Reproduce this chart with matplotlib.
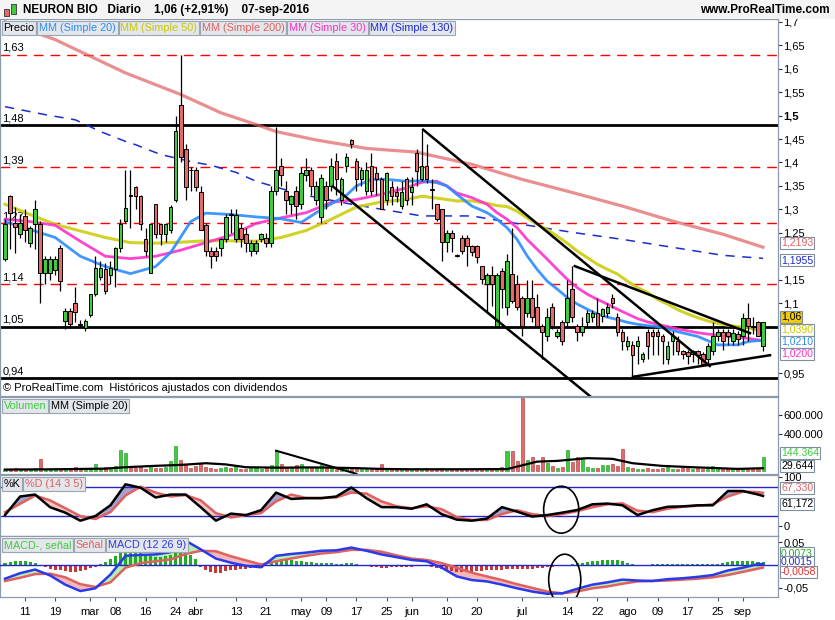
#!/usr/bin/env python
# encoding=utf-8
import numpy as np
import matplotlib
matplotlib.use('Agg')
import matplotlib.pyplot as plt
from matplotlib.patches import Ellipse, Rectangle

plt.rcParams['font.family'] = ['Liberation Sans', 'DejaVu Sans']

# ---------------- data ----------------
HOLIDAYS = ['2016-03-25', '2016-03-28']
FIRST_DAY, LAST_DAY = '2016-02-05', '2016-09-08'

opens = [1.194, 1.328, 1.270, 1.247, 1.285, 1.229, 1.268, 1.268, 1.165, 1.165,
         1.170, 1.218, 1.062, 1.084, 1.100, 1.055, 1.046, 1.074, 1.119, 1.155,
         1.172, 1.160, 1.172, 1.218, 1.275, 1.330, 1.348, 1.328, 1.236, 1.165,
         1.311, 1.268, 1.247, 1.257, 1.321, 1.523, 1.429, 1.385, 1.385, 1.337,
         1.266, 1.211, 1.211, 1.218, 1.236, 1.290, 1.236, 1.261, 1.247, 1.211,
         1.211, 1.236, 1.240, 1.229, 1.339, 1.392, 1.339, 1.311, 1.339, 1.311,
         1.374, 1.385, 1.321, 1.284, 1.350, 1.350, 1.403, 1.321, 1.392, 1.449,
         1.403, 1.365, 1.339, 1.392, 1.377, 1.365, 1.321, 1.348, 1.337, 1.308,
         1.365, 1.337, 1.421, 1.364, 1.392, 1.342, 1.311, 1.300, 1.230, 1.250,
         1.202, 1.240, 1.240, 1.221, 1.221, 1.179, 1.140, 1.160, 1.052, 1.169,
         1.091, 1.162, 1.140, 1.110, 1.080, 1.110, 1.091, 1.052, 1.030, 1.091,
         1.030, 1.060, 1.060, 1.131, 1.052, 1.039, 1.060, 1.070, 1.080, 1.073,
         1.080, 1.110, 1.070, 1.039, 1.009, 1.010, 1.009, 0.981, 1.039, 1.039,
         1.039, 1.030, 0.981, 1.020, 1.020, 0.998, 0.995, 0.991, 0.998, 0.991,
         0.981, 0.998, 1.030, 1.039, 1.039, 1.020, 1.034, 1.030, 1.069, 1.050,
         1.060, 1.009]
highs = [1.279, 1.330, 1.306, 1.290, 1.300, 1.265, 1.321, 1.275, 1.200, 1.200,
         1.200, 1.225, 1.090, 1.090, 1.135, 1.065, 1.066, 1.120, 1.200, 1.190,
         1.185, 1.190, 1.220, 1.280, 1.385, 1.385, 1.350, 1.330, 1.260, 1.268,
         1.311, 1.270, 1.270, 1.310, 1.500, 1.630, 1.440, 1.390, 1.390, 1.350,
         1.270, 1.220, 1.220, 1.240, 1.290, 1.300, 1.300, 1.270, 1.260, 1.235,
         1.235, 1.250, 1.250, 1.350, 1.475, 1.410, 1.360, 1.330, 1.350, 1.390,
         1.410, 1.390, 1.360, 1.375, 1.360, 1.410, 1.420, 1.370, 1.420, 1.450,
         1.410, 1.390, 1.400, 1.420, 1.390, 1.370, 1.380, 1.360, 1.350, 1.360,
         1.370, 1.370, 1.428, 1.470, 1.440, 1.364, 1.312, 1.300, 1.255, 1.255,
         1.205, 1.245, 1.245, 1.225, 1.225, 1.180, 1.165, 1.180, 1.165, 1.175,
         1.205, 1.260, 1.160, 1.115, 1.150, 1.150, 1.120, 1.055, 1.090, 1.100,
         1.045, 1.065, 1.150, 1.180, 1.055, 1.070, 1.085, 1.085, 1.110, 1.090,
         1.100, 1.120, 1.080, 1.045, 1.030, 1.020, 1.030, 0.995, 1.045, 1.045,
         1.045, 1.035, 1.020, 1.040, 1.030, 1.000, 1.000, 1.000, 1.000, 0.995,
         1.015, 1.060, 1.045, 1.045, 1.045, 1.045, 1.040, 1.080, 1.100, 1.070,
         1.062, 1.060]
lows = [1.190, 1.215, 1.208, 1.240, 1.230, 1.220, 1.215, 1.101, 1.140, 1.150,
        1.160, 1.125, 1.045, 1.048, 1.060, 1.050, 1.040, 1.070, 1.115, 1.150,
        1.120, 1.140, 1.135, 1.210, 1.270, 1.260, 1.300, 1.255, 1.200, 1.165,
        1.240, 1.225, 1.230, 1.250, 1.315, 1.400, 1.320, 1.340, 1.340, 1.255,
        1.200, 1.176, 1.190, 1.200, 1.230, 1.250, 1.230, 1.220, 1.210, 1.200,
        1.205, 1.230, 1.220, 1.220, 1.330, 1.350, 1.290, 1.290, 1.280, 1.300,
        1.360, 1.330, 1.310, 1.270, 1.300, 1.340, 1.330, 1.310, 1.380, 1.430,
        1.340, 1.350, 1.330, 1.330, 1.330, 1.300, 1.310, 1.310, 1.315, 1.300,
        1.310, 1.310, 1.350, 1.360, 1.357, 1.300, 1.275, 1.190, 1.210, 1.210,
        1.198, 1.205, 1.180, 1.200, 1.186, 1.140, 1.080, 1.095, 1.050, 1.090,
        1.075, 1.100, 1.085, 1.030, 1.070, 1.060, 1.050, 0.980, 1.020, 1.045,
        1.025, 1.010, 1.050, 1.060, 1.020, 1.030, 1.050, 1.060, 1.050, 1.060,
        1.070, 1.090, 1.030, 1.000, 1.000, 0.940, 0.970, 0.975, 0.980, 0.990,
        0.990, 0.970, 0.970, 0.990, 0.990, 0.980, 0.970, 0.975, 0.970, 0.965,
        0.970, 0.990, 1.020, 1.000, 1.010, 1.010, 1.010, 1.010, 1.020, 1.035,
        1.030, 0.999]
closes = [1.268, 1.293, 1.262, 1.272, 1.255, 1.261, 1.300, 1.165, 1.194, 1.194,
          1.194, 1.147, 1.084, 1.055, 1.082, 1.054, 1.062, 1.119, 1.174, 1.174,
          1.126, 1.175, 1.218, 1.268, 1.304, 1.328, 1.328, 1.268, 1.211, 1.268,
          1.247, 1.247, 1.268, 1.304, 1.467, 1.412, 1.348, 1.383, 1.348, 1.257,
          1.211, 1.201, 1.201, 1.236, 1.284, 1.289, 1.289, 1.236, 1.229, 1.229,
          1.229, 1.247, 1.229, 1.339, 1.385, 1.374, 1.321, 1.328, 1.307, 1.377,
          1.385, 1.350, 1.350, 1.366, 1.321, 1.392, 1.365, 1.365, 1.412, 1.440,
          1.365, 1.385, 1.385, 1.339, 1.365, 1.301, 1.377, 1.328, 1.328, 1.337,
          1.321, 1.348, 1.381, 1.392, 1.364, 1.341, 1.280, 1.230, 1.250, 1.240,
          1.201, 1.211, 1.221, 1.209, 1.199, 1.151, 1.160, 1.140, 1.160, 1.131,
          1.190, 1.105, 1.091, 1.052, 1.110, 1.070, 1.052, 1.039, 1.070, 1.052,
          1.039, 1.020, 1.110, 1.070, 1.039, 1.052, 1.080, 1.080, 1.052, 1.087,
          1.091, 1.101, 1.039, 1.020, 1.020, 0.990, 1.020, 0.991, 1.009, 1.030,
          1.030, 1.020, 1.009, 1.030, 0.998, 0.991, 0.988, 0.998, 0.990, 0.970,
          1.009, 1.030, 1.039, 1.020, 1.030, 1.037, 1.024, 1.069, 1.052, 1.049,
          1.030, 1.060]

volume_k = [25, 20, 30, 15, 25, 20, 35, 127, 20, 25,
            30, 18, 28, 20, 40, 15, 22, 30, 76, 30,
            45, 25, 55, 228, 192, 40, 35, 50, 25, 60,
            35, 30, 40, 112, 264, 120, 76, 30, 50, 83,
            40, 30, 25, 35, 40, 30, 50, 25, 20, 30,
            40, 25, 35, 65, 217, 70, 40, 30, 60, 76,
            40, 30, 35, 72, 30, 40, 25, 35, 30, 25,
            30, 20, 20, 25, 30, 76, 25, 20, 15, 25,
            30, 20, 35, 25, 30, 20, 25, 35, 20, 25,
            15, 20, 25, 20, 15, 20, 25, 20, 30, 40,
            210, 217, 108, 780, 120, 148, 60, 148, 80, 54,
            30, 40, 228, 100, 145, 148, 40, 35, 30, 60,
            65, 70, 50, 235, 40, 30, 25, 20, 30, 25,
            20, 30, 40, 25, 20, 30, 35, 25, 30, 20,
            25, 50, 30, 25, 35, 20, 25, 30, 25, 30,
            20, 144.364]
vol_ma_idx = [0, 10, 20, 24, 30, 35, 40, 44, 48, 55, 60, 65, 70, 75, 80, 90,
              100, 103, 106, 110, 116, 121, 125, 131, 137, 146, 151]
vol_ma_k = [15, 18, 25, 40, 55, 65, 83, 70, 40, 35, 38, 36, 30, 22, 18, 18,
            20, 60, 100, 108, 137, 130, 83, 54, 40, 22, 29.644]

# moving averages (sampled along the lines)
sma20_idx = [0, 5, 10, 15, 20, 25, 30, 33, 37, 40, 45, 50, 55, 59, 62, 65, 68,
             70, 73, 76, 80, 83, 86, 88, 90, 93, 96, 98, 100, 102, 104, 106,
             108, 110, 112, 114, 116, 118, 120, 122, 124, 126, 128, 130, 132,
             134, 136, 138, 140, 142, 144, 146, 148, 151]
sma20_val = [1.274, 1.257, 1.240, 1.200, 1.178, 1.163, 1.178, 1.208, 1.274,
             1.292, 1.289, 1.284, 1.280, 1.272, 1.293, 1.312, 1.330, 1.350,
             1.364, 1.364, 1.360, 1.361, 1.357, 1.350, 1.332, 1.307, 1.293,
             1.279, 1.261, 1.236, 1.201, 1.172, 1.147, 1.130, 1.112, 1.098,
             1.087, 1.077, 1.070, 1.065, 1.059, 1.055, 1.052, 1.050, 1.045,
             1.039, 1.034, 1.029, 1.020, 1.011, 1.011, 1.011, 1.018, 1.021]
sma30_idx = [0, 5, 10, 15, 20, 25, 30, 35, 40, 45, 50, 55, 60, 65, 70, 75, 80,
             83, 86, 88, 90, 93, 96, 98, 100, 102, 104, 106, 108, 110, 112,
             114, 116, 118, 120, 122, 124, 126, 128, 130, 132, 134, 136, 138,
             140, 142, 144, 146, 148, 151]
sma30_val = [1.279, 1.274, 1.266, 1.232, 1.200, 1.195, 1.200, 1.213, 1.229,
             1.245, 1.270, 1.282, 1.293, 1.315, 1.321, 1.332, 1.346, 1.358,
             1.360, 1.350, 1.335, 1.325, 1.311, 1.293, 1.279, 1.261, 1.236,
             1.215, 1.194, 1.172, 1.151, 1.133, 1.119, 1.108, 1.098, 1.087,
             1.077, 1.067, 1.060, 1.055, 1.050, 1.045, 1.041, 1.037, 1.034,
             1.032, 1.029, 1.027, 1.025, 1.020]
sma50_idx = [0, 5, 10, 15, 20, 25, 30, 35, 40, 45, 50, 55, 60, 65, 70, 75, 80,
             83, 86, 90, 93, 96, 98, 100, 102, 104, 106, 108, 110, 112, 114,
             116, 118, 120, 122, 124, 126, 128, 130, 132, 134, 136, 138, 140,
             142, 144, 146, 148, 151]
sma50_val = [1.311, 1.289, 1.268, 1.254, 1.240, 1.229, 1.228, 1.230, 1.233,
             1.233, 1.232, 1.240, 1.255, 1.279, 1.305, 1.316, 1.321, 1.328,
             1.324, 1.318, 1.318, 1.313, 1.308, 1.306, 1.296, 1.282, 1.268,
             1.257, 1.243, 1.228, 1.211, 1.197, 1.183, 1.172, 1.162, 1.147,
             1.133, 1.123, 1.108, 1.098, 1.086, 1.077, 1.069, 1.062, 1.057,
             1.053, 1.050, 1.048, 1.039]
sma200_idx = [0, 10, 24, 35, 43, 50, 54, 62, 72, 82, 93, 103, 113, 123, 133,
              143, 151]
sma200_val = [1.700, 1.662, 1.591, 1.545, 1.506, 1.481, 1.466, 1.448, 1.430,
              1.422, 1.396, 1.364, 1.336, 1.307, 1.275, 1.247, 1.2193]
sma130_idx = [0, 8, 14, 19, 24, 26, 31, 37, 41, 46, 50, 59, 69, 83, 93, 103,
              113, 123, 133, 143, 151]
sma130_val = [1.519, 1.502, 1.491, 1.466, 1.445, 1.438, 1.417, 1.402, 1.394,
              1.379, 1.360, 1.332, 1.311, 1.286, 1.286, 1.268, 1.251, 1.236,
              1.219, 1.202, 1.1955]

# stochastic and MACD (sampled every 3 sessions)
osc_idx = list(range(0, 151, 3)) + [151]
stoch_k = [22, 60, 64, 38, 27, 10.5, 20, 42, 85, 78, 58, 64, 64, 38, 10.5, 25,
           22, 32, 68, 55, 56.6, 56.6, 60, 78.5, 56.6, 38.3, 38, 35, 44, 23.7,
           12.7, 10.5, 14.9, 38.3, 29, 19, 22, 27, 32.4, 44, 45.6, 42, 22, 32,
           39, 39.8, 42, 42, 71.2, 71.2, 64, 61.172]
stoch_d = [28, 45, 62, 52, 36, 20, 14, 28, 62, 80, 68, 60, 63, 52, 26, 17, 22,
           26, 50, 64, 57, 57, 58, 68, 66, 50, 40, 36, 40, 34, 18, 12, 12, 24,
           32, 24, 20, 24, 30, 38, 44, 46, 31, 28, 35, 39, 41, 44, 60, 70, 69,
           67.33]
macd = [-0.030, -0.018, -0.010, -0.023, -0.043, -0.057, -0.051, -0.021, 0.020,
        0.022, 0.023, 0.028, 0.053, 0.034, 0.014, 0.005, -0.002, -0.005, 0.020,
        0.024, 0.027, 0.031, 0.032, 0.038, 0.031, 0.023, 0.017, 0.011, 0.008,
        -0.006, -0.025, -0.033, -0.036, -0.043, -0.051, -0.058, -0.063, -0.062,
        -0.052, -0.043, -0.038, -0.032, -0.034, -0.035, -0.031, -0.029, -0.026,
        -0.022, -0.012, -0.006, 0.002, 0.0015]
signal = [-0.035, -0.028, -0.020, -0.019, -0.027, -0.042, -0.048, -0.038,
          -0.006, 0.004, 0.008, 0.012, 0.024, 0.031, 0.030, 0.019, 0.010, 0.001,
          0.008, 0.014, 0.020, 0.025, 0.028, 0.033, 0.033, 0.029, 0.021, 0.014,
          0.011, 0.004, -0.006, -0.017, -0.025, -0.033, -0.042, -0.050, -0.058,
          -0.062, -0.058, -0.051, -0.047, -0.041, -0.036, -0.035, -0.034,
          -0.032, -0.030, -0.027, -0.022, -0.015, -0.008, -0.0058]
macd_hist = [0.004, 0.006, 0.008, 0.009, 0.008, 0.006, 0.004, -0.002, -0.005, -0.008,
             -0.010, -0.012, -0.014, -0.016, -0.015, -0.013, -0.010, -0.007, -0.004, 0.002,
             0.006, 0.012, 0.020, 0.026, 0.031, 0.033, 0.031, 0.027, 0.023, 0.020,
             0.018, 0.017, 0.019, 0.021, 0.026, 0.028, 0.027, 0.022, 0.012, -0.004,
             -0.012, -0.016, -0.018, -0.017, -0.014, -0.012, -0.010, -0.009, -0.008, -0.007,
             -0.007, -0.006, -0.003, 0.004, 0.010, 0.012, 0.011, 0.010, 0.008, 0.008,
             0.007, 0.006, 0.005, 0.005, 0.004, 0.004, 0.003, 0.003, 0.004, 0.005,
             0.003, 0.001, -0.002, -0.004, -0.005, -0.006, -0.006, -0.005, -0.005, -0.004,
             -0.004, -0.004, -0.003, -0.003, -0.003, -0.004, -0.006, -0.009, -0.012, -0.014,
             -0.015, -0.016, -0.016, -0.015, -0.014, -0.013, -0.012, -0.011, -0.011, -0.010,
             -0.009, -0.009, -0.009, -0.009, -0.009, -0.008, -0.007, -0.006, -0.005, -0.004,
             -0.003, -0.002, -0.001, 0.003, 0.004, 0.005, 0.007, 0.008, 0.009, 0.010,
             0.011, 0.011, 0.010, 0.008, 0.005, 0.002, 0.000, -0.001, 0.001, 0.002,
             0.002, 0.003, 0.003, 0.003, 0.002, 0.002, 0.002, 0.003, 0.002, 0.003,
             0.003, 0.002, 0.003, 0.005, 0.007, 0.008, 0.009, 0.009, 0.009, 0.008,
             0.007, 0.0073]

# horizontal levels drawn by hand on the chart
dashed_levels = [1.63, 1.39, 1.27, 1.14]
solid_levels = [1.48, 1.05, 0.94]
# trendlines: (session, price) pairs
trendlines = [((83.3, 1.470), (140.4, 0.966)),
              ((65.3, 1.349), (116.5, 0.902)),
              ((113.5, 1.179), (148.4, 1.036)),
              ((125.1, 0.943), (152.4, 0.989))]
vol_trend = ((54.0, 217000), (70.0, -30000))

tick_dates = ['2016-02-11', '2016-02-19', '2016-03-01', '2016-03-08', '2016-03-16',
              '2016-03-24', '2016-04-01', '2016-04-13', '2016-04-21', '2016-05-02',
              '2016-05-09', '2016-05-17', '2016-05-25', '2016-06-01', '2016-06-10',
              '2016-06-20', '2016-07-01', '2016-07-14', '2016-07-22', '2016-08-01',
              '2016-08-09', '2016-08-17', '2016-08-25', '2016-09-01']
tick_labels = ['11', '19', 'mar', '08', '16', '24', 'abr', '13', '21', 'may', '09',
               '17', '25', 'jun', '10', '20', 'jul', '14', '22', 'ago', '09', '17',
               '25', 'sep']

# ---------------- styles ----------------
W, H = 835.0, 620.0
RIGHT = 778.0
PX = 5.02                      # pixels per session
XMIN, XMAX = -5 / PX, (RIGHT - 5) / PX
GREEN = '#3ccc3c'
RED = '#e46a6a'
FRAME = '#8b9bab'
LVL_RED = '#ff0000'


def px_axes(fig, top, bottom):
    return fig.add_axes([0, 1 - bottom / H, RIGHT / W, (bottom - top) / H])


def comma(v, nd):
    return ('%.*f' % (nd, v)).replace('.', ',')


def thousands(v):
    return '{:,}'.format(int(round(v))).replace(',', '.')


def style_axes(ax, ylim):
    for s in ax.spines.values():
        s.set_color(FRAME)
        s.set_linewidth(0.9)
    ax.set_xlim(XMIN, XMAX)
    ax.set_ylim(*ylim)
    ax.yaxis.tick_right()
    ax.tick_params(axis='y', labelsize=8, length=3, width=0.8, color='#333333', pad=1)
    ax.tick_params(axis='x', length=0, labelbottom=False)


def tag(ax, y_px, text, color, face='white', edge='#7f8fa0'):
    # boxed value labels on the right scale, placed by pixel row
    ax.text(RIGHT / W + 3 / W, 1 - y_px / H, text, transform=ax.figure.transFigure,
            ha='left', va='center', fontsize=7.6, color=color, clip_on=False, zorder=20,
            bbox=dict(boxstyle='square,pad=0.08', fc=face, ec=edge, lw=0.8))


def legend_row(fig, y, items):
    renderer = fig.canvas.get_renderer()
    xpos = 1.0
    for text, color in items:
        t = fig.text((xpos + 2.5) / W, 1 - y / H, text, fontsize=7.8, color=color,
                     ha='left', va='center', zorder=20,
                     bbox=dict(boxstyle='square,pad=0.16', fc='#e3e6ea', ec='#9aa6b2', lw=0.8))
        xpos += t.get_window_extent(renderer).width + 4.5


# ---------------- build ----------------
days = np.arange(FIRST_DAY, LAST_DAY, dtype='datetime64[D]')
days = days[np.is_busday(days, holidays=HOLIDAYS)]
x = np.arange(len(days))
o, h, l, c = (np.array(a) for a in (opens, highs, lows, closes))
up = c >= o

fig = plt.figure(figsize=(W / 100, H / 100), dpi=100)
fig.patch.set_facecolor('white')

# header
fig.patches.append(Rectangle((0, 1 - 19 / H), 1, 19 / H, transform=fig.transFigure,
                             fc='#f4f4f4', ec='none', zorder=0))
fig.patches.append(Rectangle((4 / W, 1 - 16 / H), 5 / W, 7 / H, transform=fig.transFigure,
                             fc=RED, ec='#333333', lw=0.6))
fig.patches.append(Rectangle((11 / W, 1 - 14 / H), 5 / W, 10 / H, transform=fig.transFigure,
                             fc=GREEN, ec='#333333', lw=0.6))
fig.text(23 / W, 1 - 10 / H, u'NEURON BIO   Diario    1,06 (+2,91%)    07-sep-2016',
         fontsize=8.5, fontweight='bold', va='center')
fig.text(830 / W, 1 - 10 / H, 'www.ProRealTime.com', fontsize=8.5, fontweight='bold',
         va='center', ha='right')

# ---- price panel
ax = px_axes(fig, 19, 396)
style_axes(ax, (0.902, 1.706))
for lv in dashed_levels:
    ax.axhline(lv, color=LVL_RED, lw=1, dashes=(7, 5), zorder=1)
    ax.text(-0.5, lv + 0.004, comma(lv, 2), fontsize=8, va='bottom', zorder=1)
for lv in solid_levels:
    ax.axhline(lv, color='black', lw=2, zorder=1)
    ax.text(-0.5, lv + 0.004, comma(lv, 2), fontsize=8, va='bottom', zorder=1)

ax.plot(sma200_idx, sma200_val, color='#e06060', lw=2.3, alpha=0.7, zorder=2)
ax.plot(sma130_idx, sma130_val, color='#1c2ad0', lw=1.1, dashes=(6, 5), zorder=2)
ax.plot(sma50_idx, sma50_val, color='#cccc10', lw=2.2, alpha=0.9, zorder=2)
ax.plot(sma30_idx, sma30_val, color='#ff30c8', lw=2.0, alpha=0.9, zorder=2)
ax.plot(sma20_idx, sma20_val, color='#2a8cff', lw=2.0, alpha=0.9, zorder=2)

ax.vlines(x, l, h, color='black', lw=0.9, zorder=3)
body = np.maximum(np.abs(c - o), 0.0015)
ax.bar(x, body, bottom=np.minimum(o, c), width=0.72, color=np.where(up, GREEN, RED),
       edgecolor='black', linewidth=0.7, zorder=4)

for (x0, y0), (x1, y1) in trendlines:
    ax.plot([x0, x1], [y0, y1], color='black', lw=1.8, zorder=5)

# 1,0 / 1,05 / 1,2 sit under the value boxes in the original, so they are left out
price_ticks = [0.95, 1.10, 1.15, 1.25, 1.30, 1.35, 1.40, 1.45, 1.50, 1.55, 1.60,
               1.65, 1.70]
ax.set_yticks(price_ticks)
ax.set_yticklabels([comma(v, 2).rstrip('0').rstrip(',') for v in price_ticks])
for t in ax.get_yticklabels():
    if t.get_text() == '1,5':
        t.set_fontweight('bold')
ax.text(0.004, 0.022, u'© ProRealTime.com  Históricos ajustados con dividendos',
        transform=ax.transAxes, fontsize=8, va='center', zorder=6)

tag(ax, 243, '1,2193', '#e06060')
tag(ax, 260, '1,1955', '#1c2ad0')
tag(ax, 317, '1,06', 'black', face='#f0cc00')
tag(ax, 330, '1,0390', '#c8c800')
tag(ax, 342, '1,0210', '#2a8cff')
tag(ax, 354, '1,0200', '#ff30c8')

# ---- volume panel
av = px_axes(fig, 397, 474)
style_axes(av, (-32600, 793000))
vol = np.array(volume_k) * 1000
av.bar(x, vol, width=0.6, color=np.where(up, GREEN, RED),
       edgecolor=np.where(up, '#1e8a1e', '#a03030'), linewidth=0.4, zorder=2)
av.plot(vol_ma_idx, np.array(vol_ma_k) * 1000, color='black', lw=1.6, zorder=3)
av.plot([vol_trend[0][0], vol_trend[1][0]], [vol_trend[0][1], vol_trend[1][1]],
        color='black', lw=1.5, zorder=4)
av.set_yticks([400000, 600000])
av.set_yticklabels([thousands(v) for v in (400000, 600000)])
tag(av, 453, thousands(144364), '#3ccc3c')
tag(av, 466, thousands(29644), 'black')

# ---- stochastic panel
ast = px_axes(fig, 475, 536)
style_axes(ast, (-20.8, 104))
k = np.array(stoch_k)
d = np.array(stoch_d)
ast.fill_between(osc_idx, k, d, where=k >= d, interpolate=True, color='#a4a4cc', lw=0)
ast.fill_between(osc_idx, k, d, where=k < d, interpolate=True, color='#f6c4c4', lw=0)
ast.plot(osc_idx, d, color='#e06060', lw=1.8, zorder=3)
ast.plot(osc_idx, k, color='black', lw=1.8, zorder=4)
ast.axhline(80, color='#2424c8', lw=1)
ast.axhline(20, color='#2424c8', lw=1)
ast.add_patch(Ellipse((110.8, 33), 7, 96, fill=False, ec='black', lw=1.2, zorder=5))
ast.set_yticks([0, 100])
ast.set_yticklabels(['0', '100'])
tag(ast, 488, '67,330', '#e06060')
tag(ast, 504, '61,172', 'black')

# ---- MACD panel
am = px_axes(fig, 536, 597)
style_axes(am, (-0.070, 0.0633))
hist = np.array(macd_hist)
am.bar(x, hist, width=0.6, color=np.where(hist >= 0, '#22aa22', '#cc3333'), lw=0, zorder=2)
mc = np.array(macd)
sg = np.array(signal)
am.fill_between(osc_idx, mc, sg, where=mc >= sg, interpolate=True, color='#b4f0b4', lw=0, zorder=1)
am.fill_between(osc_idx, mc, sg, where=mc < sg, interpolate=True, color='#f4b8b8', lw=0, zorder=1)
am.axhline(0, color='#2424c8', lw=1, zorder=3)
am.plot(osc_idx, sg, color='#e06060', lw=1.8, zorder=4)
am.plot(osc_idx, mc, color='#2a3ae8', lw=1.8, zorder=5)
am.add_patch(Ellipse((111.5, -0.032), 6.4, 0.111, fill=False, ec='black', lw=1.2, zorder=6))
am.set_yticks([-0.05, 0.05])
am.set_yticklabels(['-0,05', '0,05'])
tag(am, 553, '0,0073', '#22aa22')
tag(am, 562, '0,0015', '#2424c8')
tag(am, 572, '-0,0058', '#e03030')

pos = [int(np.searchsorted(days, np.datetime64(t))) for t in tick_dates]
am.set_xticks(pos)
am.set_xticklabels(tick_labels)
am.tick_params(axis='x', labelbottom=True, length=3, color='#555555', labelsize=8, pad=4)

# panel legends
legend_row(fig, 28, [('Precio', 'black'), ('MM (Simple 20)', '#2a8cff'),
                     ('MM (Simple 50)', '#c8c800'), ('MM (Simple 200)', '#e06060'),
                     ('MM (Simple 30)', '#ff30c8'), ('MM (Simple 130)', '#1c2ad0')])
legend_row(fig, 406, [('Volumen', '#3ccc3c'), ('MM (Simple 20)', 'black')])
legend_row(fig, 484, [('%K', 'black'), ('%D (14 3 5)', '#e06060')])
legend_row(fig, 545, [(u'MACD-, señal', '#3ccc3c'), (u'Señal', '#e06060'),
                      ('MACD (12 26 9)', '#2a3ae8')])

fig.savefig('out.png', dpi=100)
